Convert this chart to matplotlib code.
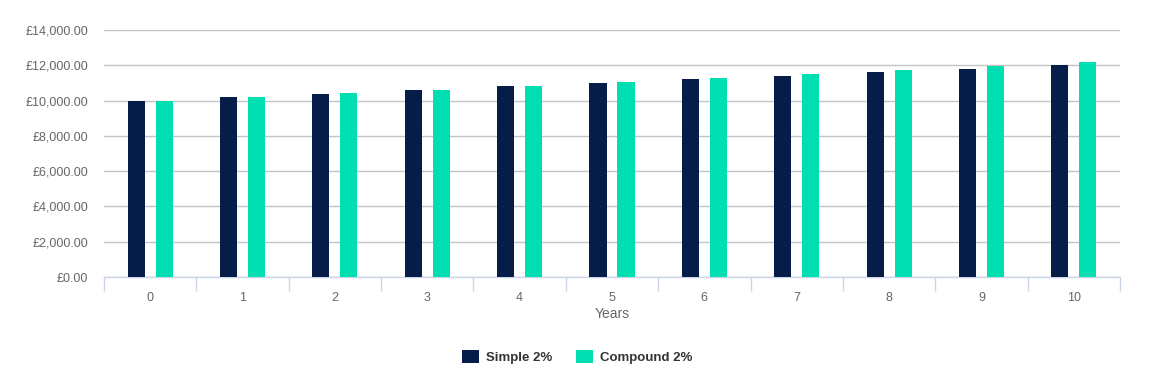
import matplotlib
matplotlib.use("Agg")
import matplotlib.pyplot as plt
import numpy as np
from matplotlib.ticker import FuncFormatter
from matplotlib.patches import Patch

plt.rcParams['font.family'] = ['Liberation Sans', 'DejaVu Sans']

years = ["0", "1", "2", "3", "4", "5", "6", "7", "8", "9", "10"]
simple = [10000, 10200, 10400, 10600, 10800, 11000, 11200, 11400, 11600, 11800, 12000]
compound = [10000, 10200, 10404, 10612, 10824, 11041, 11262, 11487, 11717, 11951, 12190]
y_ticks = [0, 2000, 4000, 6000, 8000, 10000, 12000, 14000]

c_simple = "#061d49"
c_comp = "#00dfb2"

fig = plt.figure(figsize=(11.51, 3.81), dpi=100)
ax = fig.add_axes([104/1151, 1-277/381, (1120-104)/1151, (277-30)/381])

x = np.arange(len(years))
w = 0.185
off = 0.152
ax.bar(x - off, simple, width=w, color=c_simple, zorder=3)
ax.bar(x + off, compound, width=w, color=c_comp, zorder=3)

ax.set_xlim(-0.5, len(years) - 0.5)
ax.set_ylim(0, 14000)
ax.set_yticks(y_ticks)
ax.yaxis.set_major_formatter(FuncFormatter(lambda v, p: "£{:,.2f}".format(v)))
ax.grid(axis='y', color='#c4c4c4', linewidth=1, zorder=0)
ax.tick_params(axis='y', length=0, labelsize=9, labelcolor='#666666', pad=11.5)

ax.set_xticks(x)
ax.set_xticklabels(years)
ax.set_xticks(np.arange(-0.5, len(years)), minor=True)
ax.tick_params(axis='x', which='major', length=0, labelsize=9, labelcolor='#666666', pad=11)
ax.tick_params(axis='x', which='minor', length=10, color='#ccd6eb', width=1)
ax.set_xlabel("Years", fontsize=10, color='#666666', labelpad=2)

for s in ['top', 'right', 'left']:
    ax.spines[s].set_visible(False)
ax.spines['bottom'].set_color('#ccd6eb')
ax.spines['bottom'].set_linewidth(1)

handles = [Patch(facecolor=c_simple, label="Simple 2%"), Patch(facecolor=c_comp, label="Compound 2%")]
leg = fig.legend(handles=handles, loc='center', bbox_to_anchor=(577/1151, 1-357/381), ncol=2,
                 frameon=False, prop={'weight': 'bold', 'size': 9.5}, handlelength=1.3,
                 handleheight=1.1, columnspacing=1.8, handletextpad=0.5)
for t in leg.get_texts():
    t.set_color('#333333')

fig.savefig("out.png", dpi=100)
